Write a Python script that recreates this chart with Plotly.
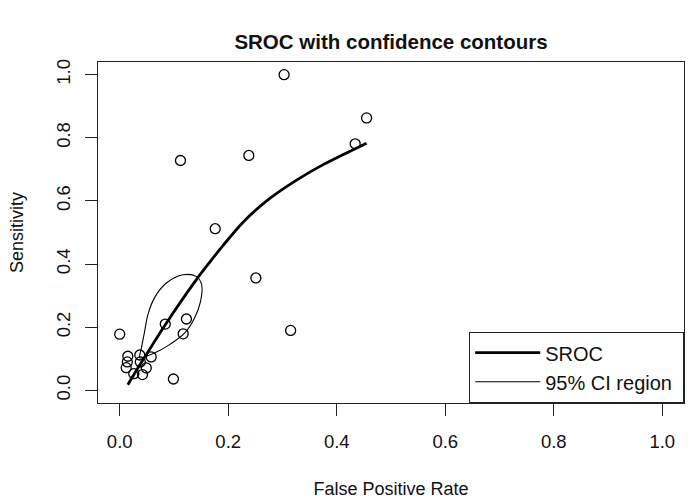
import plotly.graph_objects as go

# Study points (False Positive Rate, Sensitivity)
study_fpr = [0.303, 0.455, 0.434, 0.238, 0.112, 0.176, 0.251, 0.315, 0.000, 0.084,
             0.123, 0.117, 0.099, 0.015, 0.014, 0.012, 0.037, 0.058, 0.049, 0.026,
             0.042, 0.038]
study_sens = [1.000, 0.863, 0.781, 0.744, 0.728, 0.512, 0.356, 0.190, 0.178, 0.210,
              0.226, 0.179, 0.036, 0.108, 0.090, 0.072, 0.112, 0.106, 0.071, 0.053,
              0.050, 0.090]

# SROC curve
sroc_fpr = [0.015, 0.037, 0.084, 0.141, 0.165, 0.191, 0.227, 0.276, 0.326, 0.375, 0.418, 0.455]
sroc_sens = [0.018, 0.080, 0.208, 0.350, 0.404, 0.460, 0.532, 0.607, 0.666, 0.715, 0.752, 0.783]

# 95% confidence region contour
ci_fpr = [0.037, 0.040, 0.046, 0.052, 0.064, 0.086, 0.117, 0.141, 0.151, 0.149,
          0.138, 0.120, 0.092, 0.064, 0.046, 0.037]
ci_sens = [0.103, 0.134, 0.187, 0.240, 0.293, 0.340, 0.366, 0.361, 0.335, 0.282,
           0.229, 0.182, 0.145, 0.118, 0.106, 0.103]

x_ticks = [0.0, 0.2, 0.4, 0.6, 0.8, 1.0]
x_tick_labels = ["0.0", "0.2", "0.4", "0.6", "0.8", "1.0"]
y_ticks = [0.0, 0.2, 0.4, 0.6, 0.8, 1.0]
y_tick_labels = ["0.0", "0.2", "0.4", "0.6", "0.8", "1.0"]

FONT = "Liberation Sans, Arial, Helvetica, sans-serif"

fig = go.Figure()
fig.add_trace(go.Scatter(
    x=study_fpr, y=study_sens, mode="markers", showlegend=False,
    marker=dict(symbol="circle-open", size=10, color="black", line=dict(width=1.3, color="black")),
))
fig.add_trace(go.Scatter(
    x=sroc_fpr, y=sroc_sens, mode="lines", name="SROC",
    line=dict(color="black", width=2.8, shape="spline", smoothing=0.8),
))
fig.add_trace(go.Scatter(
    x=ci_fpr, y=ci_sens, mode="lines", name="95% CI region\u00a0",
    line=dict(color="black", width=1.1, shape="spline", smoothing=1.0),
))

axis_common = dict(
    range=[-0.04, 1.04], showgrid=False, zeroline=False,
    showline=True, mirror=True, linecolor="#222", linewidth=1.2,
    ticks="outside", ticklen=12, tickwidth=1.2, tickcolor="#222",
    tickfont=dict(family=FONT, size=18.5, color="#111"),
)

fig.update_layout(
    width=688, height=503,
    margin=dict(l=98, r=4, t=62, b=100),
    paper_bgcolor="white", plot_bgcolor="white",
    font=dict(family=FONT, size=18, color="#111"),
    title=dict(text="<b>SROC with confidence contours</b>", x=(98 + 684) / 2 / 688, xanchor="center",
               y=1 - 42 / 503, yanchor="middle", font=dict(family=FONT, size=20.5, color="#111")),
    xaxis=dict(axis_common, tickvals=x_ticks, ticktext=x_tick_labels, ticklabelstandoff=10,
               title=dict(text="False Positive Rate", font=dict(family=FONT, size=18), standoff=31)),
    yaxis=dict(axis_common, tickvals=y_ticks, ticktext=y_tick_labels, tickangle=-90,
               ticklabelstandoff=8,
               title=dict(text="Sensitivity", font=dict(family=FONT, size=18), standoff=24)),
    legend=dict(x=1, xanchor="right", y=0, yanchor="bottom",
                bordercolor="#222", borderwidth=1.2, bgcolor="white",
                font=dict(family=FONT, size=20, color="#111"),
                itemwidth=65, tracegroupgap=0),
)

fig.write_html("out.html", config={"displayModeBar": False},
               post_script="document.body.style.margin='0';")
